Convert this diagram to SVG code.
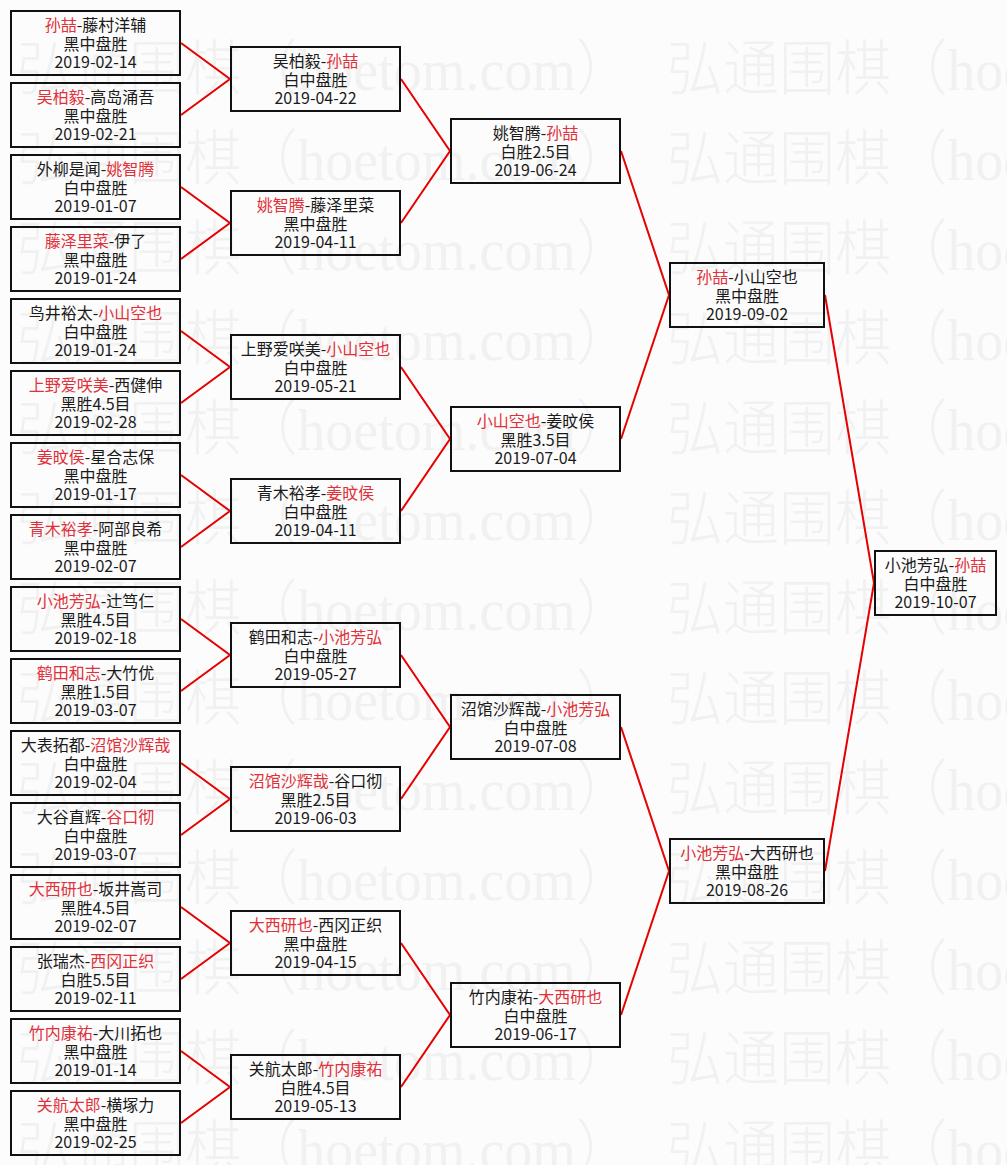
<svg xmlns="http://www.w3.org/2000/svg" width="1007" height="1165" viewBox="0 0 1007 1165">
<style>
.bg{fill:#fcfcfc}
.wm{fill:#f1f1f1;font-family:"Liberation Serif","Noto Sans CJK SC",serif;font-size:60px;font-weight:300}
.box{fill:none;stroke:#111;stroke-width:2}
.t{font-family:"Noto Sans CJK SC",sans-serif;font-size:16px;fill:#1a1a1a;text-anchor:middle}
.w{fill:#e0303a}
.con{fill:none;stroke:#e60000;stroke-width:2}
</style>
<rect class="bg" x="0" y="0" width="1007" height="1165"/>
<g id="watermark">
<text class="wm" x="17" y="90" textLength="615" lengthAdjust="spacingAndGlyphs">弘通围棋（hoetom.com）</text><text class="wm" x="667" y="90" textLength="615" lengthAdjust="spacingAndGlyphs">弘通围棋（hoetom.com）</text>
<text class="wm" x="17" y="180" textLength="615" lengthAdjust="spacingAndGlyphs">弘通围棋（hoetom.com）</text><text class="wm" x="667" y="180" textLength="615" lengthAdjust="spacingAndGlyphs">弘通围棋（hoetom.com）</text>
<text class="wm" x="17" y="270" textLength="615" lengthAdjust="spacingAndGlyphs">弘通围棋（hoetom.com）</text><text class="wm" x="667" y="270" textLength="615" lengthAdjust="spacingAndGlyphs">弘通围棋（hoetom.com）</text>
<text class="wm" x="17" y="360" textLength="615" lengthAdjust="spacingAndGlyphs">弘通围棋（hoetom.com）</text><text class="wm" x="667" y="360" textLength="615" lengthAdjust="spacingAndGlyphs">弘通围棋（hoetom.com）</text>
<text class="wm" x="17" y="450" textLength="615" lengthAdjust="spacingAndGlyphs">弘通围棋（hoetom.com）</text><text class="wm" x="667" y="450" textLength="615" lengthAdjust="spacingAndGlyphs">弘通围棋（hoetom.com）</text>
<text class="wm" x="17" y="540" textLength="615" lengthAdjust="spacingAndGlyphs">弘通围棋（hoetom.com）</text><text class="wm" x="667" y="540" textLength="615" lengthAdjust="spacingAndGlyphs">弘通围棋（hoetom.com）</text>
<text class="wm" x="17" y="630" textLength="615" lengthAdjust="spacingAndGlyphs">弘通围棋（hoetom.com）</text><text class="wm" x="667" y="630" textLength="615" lengthAdjust="spacingAndGlyphs">弘通围棋（hoetom.com）</text>
<text class="wm" x="17" y="720" textLength="615" lengthAdjust="spacingAndGlyphs">弘通围棋（hoetom.com）</text><text class="wm" x="667" y="720" textLength="615" lengthAdjust="spacingAndGlyphs">弘通围棋（hoetom.com）</text>
<text class="wm" x="17" y="810" textLength="615" lengthAdjust="spacingAndGlyphs">弘通围棋（hoetom.com）</text><text class="wm" x="667" y="810" textLength="615" lengthAdjust="spacingAndGlyphs">弘通围棋（hoetom.com）</text>
<text class="wm" x="17" y="900" textLength="615" lengthAdjust="spacingAndGlyphs">弘通围棋（hoetom.com）</text><text class="wm" x="667" y="900" textLength="615" lengthAdjust="spacingAndGlyphs">弘通围棋（hoetom.com）</text>
<text class="wm" x="17" y="990" textLength="615" lengthAdjust="spacingAndGlyphs">弘通围棋（hoetom.com）</text><text class="wm" x="667" y="990" textLength="615" lengthAdjust="spacingAndGlyphs">弘通围棋（hoetom.com）</text>
<text class="wm" x="17" y="1080" textLength="615" lengthAdjust="spacingAndGlyphs">弘通围棋（hoetom.com）</text><text class="wm" x="667" y="1080" textLength="615" lengthAdjust="spacingAndGlyphs">弘通围棋（hoetom.com）</text>
<text class="wm" x="17" y="1170" textLength="615" lengthAdjust="spacingAndGlyphs">弘通围棋（hoetom.com）</text><text class="wm" x="667" y="1170" textLength="615" lengthAdjust="spacingAndGlyphs">弘通围棋（hoetom.com）</text>
</g>
<g id="connectors">
<polyline class="con" points="181,43 230,79 181,115"/>
<polyline class="con" points="181,187 230,223 181,259"/>
<polyline class="con" points="181,331 230,367 181,403"/>
<polyline class="con" points="181,475 230,511 181,547"/>
<polyline class="con" points="181,619 230,655 181,691"/>
<polyline class="con" points="181,763 230,799 181,835"/>
<polyline class="con" points="181,907 230,943 181,979"/>
<polyline class="con" points="181,1051 230,1087 181,1123"/>
<polyline class="con" points="401,79 450,151 401,223"/>
<polyline class="con" points="401,367 450,439 401,511"/>
<polyline class="con" points="401,655 450,727 401,799"/>
<polyline class="con" points="401,943 450,1015 401,1087"/>
<polyline class="con" points="621,151 669,295 621,439"/>
<polyline class="con" points="621,727 669,871 621,1015"/>
<polyline class="con" points="825,295 874,583 825,871"/>
</g>
<!-- Round 1 -->
<g id="r1-1" transform="translate(10,10)"><rect class="box" x="1" y="1" width="169" height="64"/><text class="t" x="85.5" y="21"><tspan class="w">孙喆</tspan>-藤村洋辅</text><text class="t" x="85.5" y="40">黑中盘胜</text><text class="t" x="85.5" y="58">2019-02-14</text></g>
<g id="r1-2" transform="translate(10,82)"><rect class="box" x="1" y="1" width="169" height="64"/><text class="t" x="85.5" y="21"><tspan class="w">吴柏毅</tspan>-高岛涌吾</text><text class="t" x="85.5" y="40">黑中盘胜</text><text class="t" x="85.5" y="58">2019-02-21</text></g>
<g id="r1-3" transform="translate(10,154)"><rect class="box" x="1" y="1" width="169" height="64"/><text class="t" x="85.5" y="21">外柳是闻-<tspan class="w">姚智腾</tspan></text><text class="t" x="85.5" y="40">白中盘胜</text><text class="t" x="85.5" y="58">2019-01-07</text></g>
<g id="r1-4" transform="translate(10,226)"><rect class="box" x="1" y="1" width="169" height="64"/><text class="t" x="85.5" y="21"><tspan class="w">藤泽里菜</tspan>-伊了</text><text class="t" x="85.5" y="40">黑中盘胜</text><text class="t" x="85.5" y="58">2019-01-24</text></g>
<g id="r1-5" transform="translate(10,298)"><rect class="box" x="1" y="1" width="169" height="64"/><text class="t" x="85.5" y="21">鸟井裕太-<tspan class="w">小山空也</tspan></text><text class="t" x="85.5" y="40">白中盘胜</text><text class="t" x="85.5" y="58">2019-01-24</text></g>
<g id="r1-6" transform="translate(10,370)"><rect class="box" x="1" y="1" width="169" height="64"/><text class="t" x="85.5" y="21"><tspan class="w">上野爱咲美</tspan>-西健伸</text><text class="t" x="85.5" y="40">黑胜4.5目</text><text class="t" x="85.5" y="58">2019-02-28</text></g>
<g id="r1-7" transform="translate(10,442)"><rect class="box" x="1" y="1" width="169" height="64"/><text class="t" x="85.5" y="21"><tspan class="w">姜旼侯</tspan>-星合志保</text><text class="t" x="85.5" y="40">黑中盘胜</text><text class="t" x="85.5" y="58">2019-01-17</text></g>
<g id="r1-8" transform="translate(10,514)"><rect class="box" x="1" y="1" width="169" height="64"/><text class="t" x="85.5" y="21"><tspan class="w">青木裕孝</tspan>-阿部良希</text><text class="t" x="85.5" y="40">黑中盘胜</text><text class="t" x="85.5" y="58">2019-02-07</text></g>
<g id="r1-9" transform="translate(10,586)"><rect class="box" x="1" y="1" width="169" height="64"/><text class="t" x="85.5" y="21"><tspan class="w">小池芳弘</tspan>-辻笃仁</text><text class="t" x="85.5" y="40">黑胜4.5目</text><text class="t" x="85.5" y="58">2019-02-18</text></g>
<g id="r1-10" transform="translate(10,658)"><rect class="box" x="1" y="1" width="169" height="64"/><text class="t" x="85.5" y="21"><tspan class="w">鹤田和志</tspan>-大竹优</text><text class="t" x="85.5" y="40">黑胜1.5目</text><text class="t" x="85.5" y="58">2019-03-07</text></g>
<g id="r1-11" transform="translate(10,730)"><rect class="box" x="1" y="1" width="169" height="64"/><text class="t" x="85.5" y="21">大表拓都-<tspan class="w">沼馆沙辉哉</tspan></text><text class="t" x="85.5" y="40">白中盘胜</text><text class="t" x="85.5" y="58">2019-02-04</text></g>
<g id="r1-12" transform="translate(10,802)"><rect class="box" x="1" y="1" width="169" height="64"/><text class="t" x="85.5" y="21">大谷直辉-<tspan class="w">谷口彻</tspan></text><text class="t" x="85.5" y="40">白中盘胜</text><text class="t" x="85.5" y="58">2019-03-07</text></g>
<g id="r1-13" transform="translate(10,874)"><rect class="box" x="1" y="1" width="169" height="64"/><text class="t" x="85.5" y="21"><tspan class="w">大西研也</tspan>-坂井嵩司</text><text class="t" x="85.5" y="40">黑胜4.5目</text><text class="t" x="85.5" y="58">2019-02-07</text></g>
<g id="r1-14" transform="translate(10,946)"><rect class="box" x="1" y="1" width="169" height="64"/><text class="t" x="85.5" y="21">张瑞杰-<tspan class="w">西冈正织</tspan></text><text class="t" x="85.5" y="40">白胜5.5目</text><text class="t" x="85.5" y="58">2019-02-11</text></g>
<g id="r1-15" transform="translate(10,1018)"><rect class="box" x="1" y="1" width="169" height="64"/><text class="t" x="85.5" y="21"><tspan class="w">竹内康祐</tspan>-大川拓也</text><text class="t" x="85.5" y="40">黑中盘胜</text><text class="t" x="85.5" y="58">2019-01-14</text></g>
<g id="r1-16" transform="translate(10,1090)"><rect class="box" x="1" y="1" width="169" height="64"/><text class="t" x="85.5" y="21"><tspan class="w">关航太郎</tspan>-横塚力</text><text class="t" x="85.5" y="40">黑中盘胜</text><text class="t" x="85.5" y="58">2019-02-25</text></g>
<!-- Round 2 -->
<g id="r2-1" transform="translate(230,46)"><rect class="box" x="1" y="1" width="169" height="64"/><text class="t" x="85.5" y="21">吴柏毅-<tspan class="w">孙喆</tspan></text><text class="t" x="85.5" y="40">白中盘胜</text><text class="t" x="85.5" y="58">2019-04-22</text></g>
<g id="r2-2" transform="translate(230,190)"><rect class="box" x="1" y="1" width="169" height="64"/><text class="t" x="85.5" y="21"><tspan class="w">姚智腾</tspan>-藤泽里菜</text><text class="t" x="85.5" y="40">黑中盘胜</text><text class="t" x="85.5" y="58">2019-04-11</text></g>
<g id="r2-3" transform="translate(230,334)"><rect class="box" x="1" y="1" width="169" height="64"/><text class="t" x="85.5" y="21">上野爱咲美-<tspan class="w">小山空也</tspan></text><text class="t" x="85.5" y="40">白中盘胜</text><text class="t" x="85.5" y="58">2019-05-21</text></g>
<g id="r2-4" transform="translate(230,478)"><rect class="box" x="1" y="1" width="169" height="64"/><text class="t" x="85.5" y="21">青木裕孝-<tspan class="w">姜旼侯</tspan></text><text class="t" x="85.5" y="40">白中盘胜</text><text class="t" x="85.5" y="58">2019-04-11</text></g>
<g id="r2-5" transform="translate(230,622)"><rect class="box" x="1" y="1" width="169" height="64"/><text class="t" x="85.5" y="21">鹤田和志-<tspan class="w">小池芳弘</tspan></text><text class="t" x="85.5" y="40">白中盘胜</text><text class="t" x="85.5" y="58">2019-05-27</text></g>
<g id="r2-6" transform="translate(230,766)"><rect class="box" x="1" y="1" width="169" height="64"/><text class="t" x="85.5" y="21"><tspan class="w">沼馆沙辉哉</tspan>-谷口彻</text><text class="t" x="85.5" y="40">黑胜2.5目</text><text class="t" x="85.5" y="58">2019-06-03</text></g>
<g id="r2-7" transform="translate(230,910)"><rect class="box" x="1" y="1" width="169" height="64"/><text class="t" x="85.5" y="21"><tspan class="w">大西研也</tspan>-西冈正织</text><text class="t" x="85.5" y="40">黑中盘胜</text><text class="t" x="85.5" y="58">2019-04-15</text></g>
<g id="r2-8" transform="translate(230,1054)"><rect class="box" x="1" y="1" width="169" height="64"/><text class="t" x="85.5" y="21">关航太郎-<tspan class="w">竹内康祐</tspan></text><text class="t" x="85.5" y="40">白胜4.5目</text><text class="t" x="85.5" y="58">2019-05-13</text></g>
<!-- Round 3 -->
<g id="r3-1" transform="translate(450,118)"><rect class="box" x="1" y="1" width="169" height="64"/><text class="t" x="85.5" y="21">姚智腾-<tspan class="w">孙喆</tspan></text><text class="t" x="85.5" y="40">白胜2.5目</text><text class="t" x="85.5" y="58">2019-06-24</text></g>
<g id="r3-2" transform="translate(450,406)"><rect class="box" x="1" y="1" width="169" height="64"/><text class="t" x="85.5" y="21"><tspan class="w">小山空也</tspan>-姜旼侯</text><text class="t" x="85.5" y="40">黑胜3.5目</text><text class="t" x="85.5" y="58">2019-07-04</text></g>
<g id="r3-3" transform="translate(450,694)"><rect class="box" x="1" y="1" width="169" height="64"/><text class="t" x="85.5" y="21">沼馆沙辉哉-<tspan class="w">小池芳弘</tspan></text><text class="t" x="85.5" y="40">白中盘胜</text><text class="t" x="85.5" y="58">2019-07-08</text></g>
<g id="r3-4" transform="translate(450,982)"><rect class="box" x="1" y="1" width="169" height="64"/><text class="t" x="85.5" y="21">竹内康祐-<tspan class="w">大西研也</tspan></text><text class="t" x="85.5" y="40">白中盘胜</text><text class="t" x="85.5" y="58">2019-06-17</text></g>
<!-- Round 4 -->
<g id="r4-1" transform="translate(669,262)"><rect class="box" x="1" y="1" width="154" height="64"/><text class="t" x="78" y="21"><tspan class="w">孙喆</tspan>-小山空也</text><text class="t" x="78" y="40">黑中盘胜</text><text class="t" x="78" y="58">2019-09-02</text></g>
<g id="r4-2" transform="translate(669,838)"><rect class="box" x="1" y="1" width="154" height="64"/><text class="t" x="78" y="21"><tspan class="w">小池芳弘</tspan>-大西研也</text><text class="t" x="78" y="40">黑中盘胜</text><text class="t" x="78" y="58">2019-08-26</text></g>
<!-- Final -->
<g id="final" transform="translate(874,550)"><rect class="box" x="1" y="1" width="121" height="64"/><text class="t" x="61.5" y="21">小池芳弘-<tspan class="w">孙喆</tspan></text><text class="t" x="61.5" y="40">白中盘胜</text><text class="t" x="61.5" y="58">2019-10-07</text></g>
</svg>
